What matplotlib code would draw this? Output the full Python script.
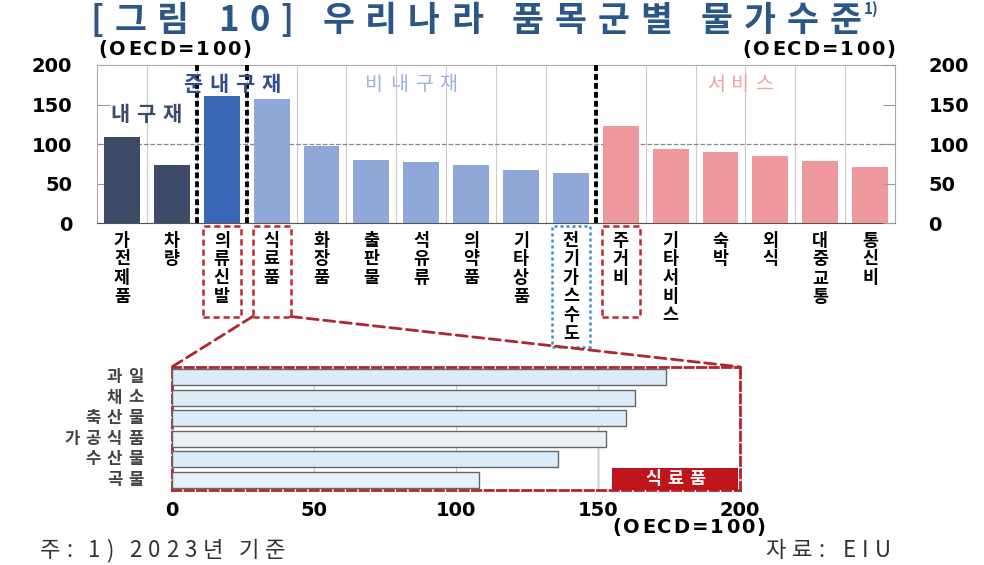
import matplotlib.pyplot as plt
from matplotlib.patches import Rectangle, ConnectionPatch
from matplotlib.transforms import blended_transform_factory, offset_copy

plt.rcParams['font.family'] = ['Noto Sans CJK KR', 'DejaVu Sans']

# 품목군별 물가수준 (OECD=100)
items = ['가전제품', '차량', '의류신발', '식료품', '화장품', '출판물', '석유류', '의약품',
         '기타상품', '전기가스수도', '주거비', '기타서비스', '숙박', '외식', '대중교통', '통신비']
values = [109, 73, 161, 157, 97, 80, 77, 73, 67, 63, 123, 94, 90, 85, 78, 71]
groups = ['내구재'] * 2 + ['준내구재'] + ['비내구재'] * 7 + ['서비스'] * 6

# 식료품 세부 품목
food_items = ['과일', '채소', '축산물', '가공식품', '수산물', '곡물']
food_values = [174, 163, 160, 153, 136, 108]

group_colors = {'내구재': '#3d4b68', '준내구재': '#3a67b5', '비내구재': '#8fa8d8', '서비스': '#ee9a9c'}

fig = plt.figure(figsize=(9.84, 5.65), dpi=100)
renderer = fig.canvas.get_renderer()


def spaced_text(x, y, s, track, width=None, transform=None, ha='left', **kw):
    # letter-spaced text: chars `track` px apart, words spread to fill `width` px
    if transform is None:
        transform = fig.transFigure
    fs = kw.get('fontsize', 10)
    widths = []
    for ch in s:
        if ch == ' ':
            widths.append(None)
            continue
        t = fig.text(0, 0, ch, **kw)
        widths.append(t.get_window_extent(renderer).width)
        t.remove()
    nsp = widths.count(None)
    ink = sum(w for w in widths if w is not None) + track * (len(s) - 1 - 2 * nsp)
    if width is not None and nsp:
        word_gap = (width - ink) / nsp
    else:
        word_gap = fs * 0.6
    total = ink + word_gap * nsp
    pos = {'left': 0, 'center': -total / 2, 'right': -total}[ha]
    last = None
    for ch, w in zip(s, widths):
        if w is None:
            pos += word_gap - track
            continue
        last = fig.text(x, y, ch, ha='left',
                        transform=offset_copy(transform, fig=fig, x=pos, y=0, units='dots'), **kw)
        pos += w + track
    return last


# title
last = spaced_text(0.0915, 0.963, '[그림 10] 우리나라 품목군별 물가수준', 11, width=772,
                   va='center', fontsize=25, fontweight='bold', color='#2b5688')
fig.add_artist(plt.Annotation('1)', xy=(1.0, 0.85), xycoords=last, xytext=(1, 0),
                              textcoords='offset points', fontsize=11, fontweight='bold',
                              color='#2b5688', va='center', ha='left', annotation_clip=False))

# ---- top bar chart
ax = fig.add_axes([0.0986, 0.605, 0.811, 0.28])
x = list(range(len(items)))
ax.bar(x, values, width=0.72, color=[group_colors[g] for g in groups], zorder=3)
ax.set_xlim(-0.5, len(items) - 0.5)
ax.set_ylim(0, 200)
ax.set_yticks([0, 50, 100, 150, 200])
ax.tick_params(axis='y', direction='in', length=9, color='#999999', pad=18)
ax.set_yticklabels(['0', '50', '100', '150', '200'], family='DejaVu Sans', fontweight='bold',
                   fontsize=14)
ax.set_xticks(x)
ax.set_xticklabels(['\n'.join(s) for s in items], fontsize=12.5, fontweight='bold',
                   linespacing=1.05, va='top')
ax.tick_params(axis='x', length=0, pad=6)
ax.set_xticks([i + 0.5 for i in x[:-1]], minor=True)
ax.tick_params(axis='x', which='minor', length=0)
ax.grid(axis='x', which='minor', color='#cccccc', lw=0.8, zorder=0)
ax.axhline(100, color='#888888', ls='--', lw=0.9, zorder=2)
for s in ax.spines.values():
    s.set_color('#aaaaaa')
ax.spines['bottom'].set_color('#555555')

ax2 = ax.twinx()
ax2.set_ylim(0, 200)
ax2.set_yticks([0, 50, 100, 150, 200])
ax2.tick_params(axis='y', direction='in', length=9, color='#999999', pad=24)
ax2.set_yticklabels(['0', '50', '100', '150', '200'], family='DejaVu Sans', fontweight='bold',
                    fontsize=14)
for s in ax2.spines.values():
    s.set_visible(False)

for xb in [1.5, 2.5, 9.5]:
    ax.axvline(xb, color='black', ls=(0, (1.5, 0.8)), lw=2.8, zorder=4)

spaced_text(0.48, 137, '내구재', 7, transform=ax.transData, ha='center', va='center',
            fontsize=15, fontweight='bold', color='#3d4b68', zorder=5)
spaced_text(2.2, 175, '준내구재', 7, transform=ax.transData, ha='center', va='center',
            fontsize=15, fontweight='bold', color='#2f4f8f', zorder=5)
spaced_text(5.8, 175, '비내구재', 7, transform=ax.transData, ha='center', va='center',
            fontsize=14, color='#9db2de', zorder=5)
spaced_text(12.4, 175, '서비스', 7, transform=ax.transData, ha='center', va='center',
            fontsize=14, color='#eea2a4', zorder=5)

spaced_text(0.1, 0.913, '(OECD=100)', 2, va='center', family='DejaVu Sans',
            fontsize=14, fontweight='bold')
spaced_text(0.91, 0.913, '(OECD=100)', 2, ha='right', va='center', family='DejaVu Sans',
            fontsize=14, fontweight='bold')

# dashed boxes around labels
trans = blended_transform_factory(ax.transData, ax.transAxes)
box_h = {2: 0.57, 3: 0.57, 9: 0.76, 10: 0.57}
for i, h in box_h.items():
    col = '#3a8fc8' if i == 9 else '#c0282d'
    ls = (0, (1.2, 1.2)) if i == 9 else (0, (2.5, 1.5))
    ax.add_patch(Rectangle((i - 0.38, -0.02 - h), 0.76, h, transform=trans, fill=False,
                           edgecolor=col, lw=1.8, ls=ls, clip_on=False, zorder=6))

# ---- inset: 식료품
axi = fig.add_axes([0.1748, 0.1327, 0.577, 0.218])
yi = list(range(len(food_items)))
food_colors = ['#dcecf8', '#dcecf8', '#dcecf8', '#eef1f3', '#dcecf8', '#e6f1f9']
axi.barh(yi, food_values, height=0.78, color=food_colors, edgecolor='#666666', lw=1.0, zorder=3)
axi.set_ylim(len(food_items) - 0.5, -0.5)
axi.set_xlim(0, 200)
axi.set_yticks(yi)
axi.set_yticklabels([])
axi.tick_params(axis='y', length=0)
ylab = blended_transform_factory(fig.transFigure, axi.transData)
for yv, name in zip(yi, food_items):
    spaced_text(0.146, yv, name, 6, transform=ylab, ha='right', va='center',
                fontsize=12, fontweight='bold', color='#444444')
axi.set_xticks([0, 50, 100, 150, 200])
axi.set_xticklabels(['0', '50', '100', '150', '200'], family='DejaVu Sans', fontweight='bold',
                    fontsize=14)
axi.tick_params(axis='x', length=0, pad=8)
axi.grid(axis='x', color='#cccccc', lw=0.8, zorder=0)
axi.axvline(150, color='#999999', lw=1.0, zorder=1)
for s in axi.spines.values():
    s.set_color('#b0262c')
    s.set_linestyle((0, (3, 1.5)))
    s.set_linewidth(2.0)
axi.add_patch(Rectangle((0.775, 0.0), 0.222, 0.18, transform=axi.transAxes,
                        facecolor='#c0141c', edgecolor='none', zorder=5))
spaced_text(0.886, 0.09, '식료품', 6, transform=axi.transAxes, ha='center', va='center',
            fontsize=12.5, color='white', fontweight='bold', zorder=6)
spaced_text(0.778, 0.066, '(OECD=100)', 2, ha='right', va='center', family='DejaVu Sans',
            fontsize=14, fontweight='bold')

# connecting lines from 식료품 box to inset
for xs, xe in [(3 - 0.38, 0.0), (3 + 0.38, 1.0)]:
    cp = ConnectionPatch(xyA=(xs, -0.59), coordsA=trans, xyB=(xe, 1.0), coordsB=axi.transAxes,
                         color='#b0262c', lw=2.0, ls=(0, (4, 2)))
    fig.add_artist(cp)

spaced_text(0.041, 0.026, '주: 1) 2023년 기준', 6, width=245, va='center', fontsize=16,
            color='#333333')
spaced_text(0.905, 0.026, '자료: EIU', 6, width=125, ha='right', va='center', fontsize=16,
            color='#333333')

fig.savefig('out.png', dpi=100)
